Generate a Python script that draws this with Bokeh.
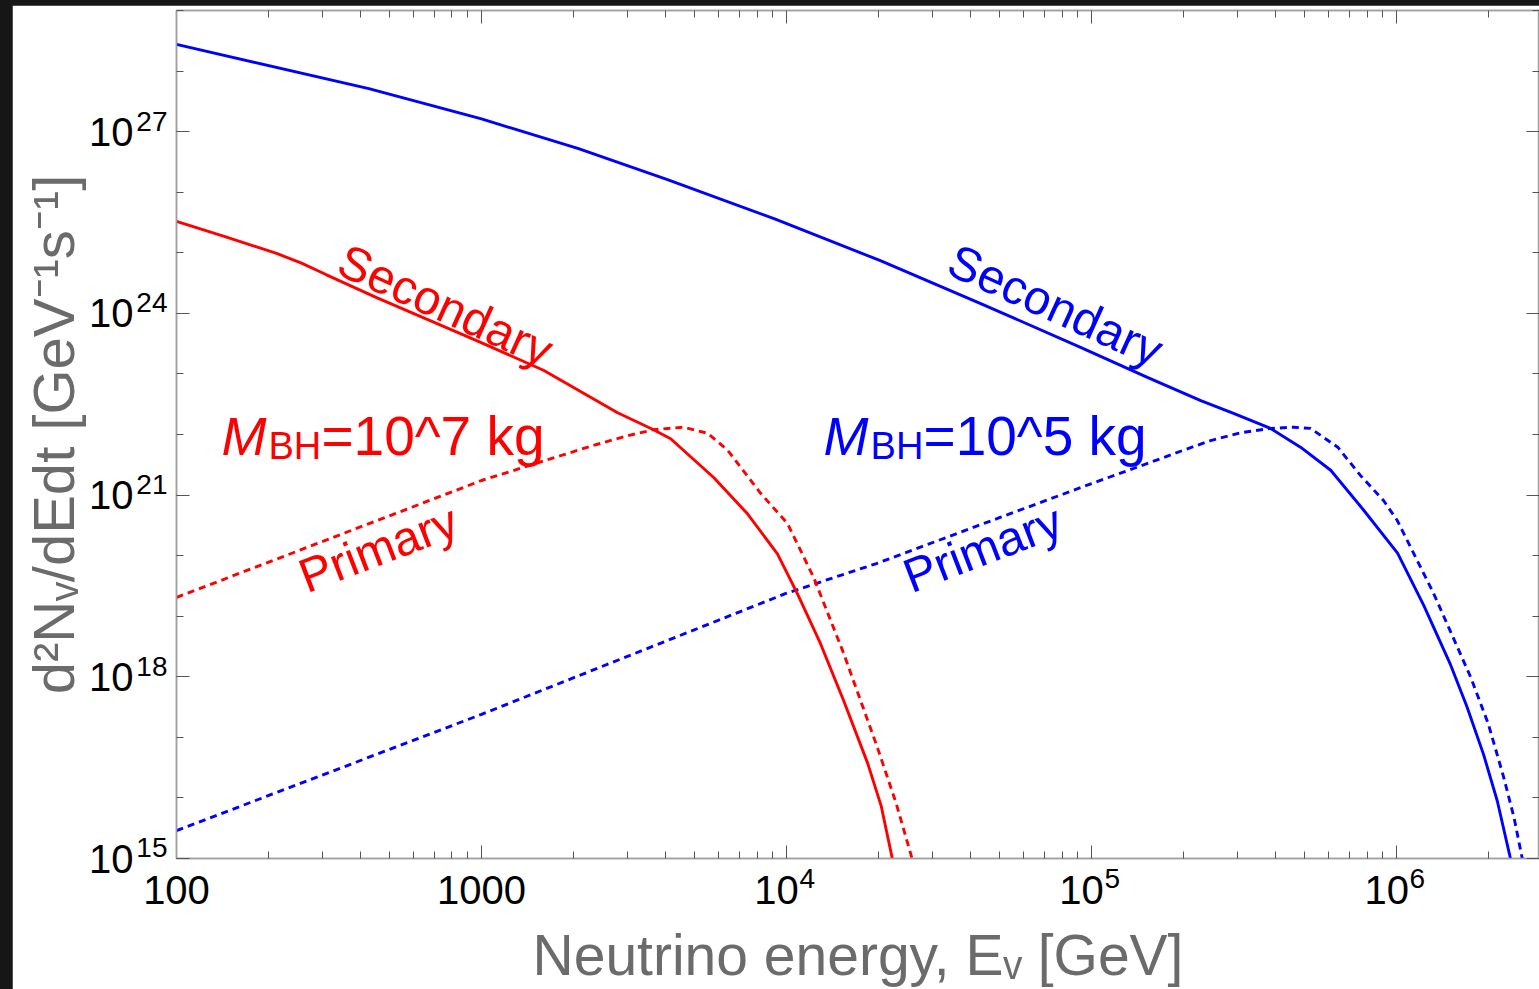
from bokeh.plotting import figure
from bokeh.models import LogAxis, FixedTicker, Label, Range1d, GlobalInlineStyleSheet
from bokeh.embed import file_html
from bokeh.resources import INLINE

# ---------------- data ----------------
# M_BH = 10^5 kg, secondary spectrum (solid blue)
energy_sec_1e5 = [100, 427, 1000, 2080, 4070, 9140, 20300, 43300, 92000, 153000,
                  228000, 292000, 386000, 484000, 608000, 780000, 1.007e6, 1.227e6,
                  1.503e6, 1.698e6, 1.928e6, 2.138e6, 2.366e6, 2.455e6]
flux_sec_1e5 = [2.75e28, 5.13e27, 1.62e27, 5.25e26, 1.62e26, 3.63e25, 7.41e24, 1.45e24,
                2.75e23, 8.71e22, 3.63e22, 2.24e22, 1.26e22, 6.17e21, 2.57e21, 5.62e20,
                1.10e20, 1.51e19, 1.57e18, 3.27e17, 5.19e16, 8.91e15, 9.55e14, 3.80e14]

# M_BH = 10^5 kg, primary spectrum (dotted blue)
energy_pri_1e5 = [100, 1000, 10000, 19720, 50100, 100000, 156000, 200000, 245500, 308000,
                  386400, 459200, 522400, 576800, 641200, 762100, 905700, 1.005e6, 1.321e6,
                  1.750e6, 1.995e6, 2.244e6, 2.427e6, 2.588e6, 2.69e6]
flux_pri_1e5 = [2.88e15, 2.40e17, 2.40e19, 7.41e19, 4.27e20, 1.55e21, 3.47e21, 5.50e21,
                7.94e21, 1.07e22, 1.26e22, 1.32e22, 1.26e22, 8.91e21, 6.17e21, 2.09e21,
                8.13e20, 3.80e20, 2.40e19, 9.77e17, 1.70e17, 2.19e16, 4.68e15, 9.33e14,
                3.63e14]

# M_BH = 10^7 kg, secondary spectrum (solid red)
energy_sec_1e7 = [100, 145.9, 212.8, 257, 309, 452.9, 963.8, 1596, 2793, 3664, 4169, 5768,
                  7447, 9333, 10860, 12910, 15380, 18450, 20420, 22280, 22910]
flux_sec_1e7 = [3.31e25, 1.82e25, 9.77e24, 6.76e24, 4.37e24, 1.82e24, 3.55e23, 1.15e23,
                2.29e22, 1.20e22, 8.51e21, 1.95e21, 4.90e20, 1.07e20, 2.34e19, 3.55e18,
                4.07e17, 3.72e16, 7.41e15, 9.33e14, 5.0e14]

# M_BH = 10^7 kg, primary spectrum (dotted red)
energy_pri_1e7 = [100, 1000, 1816, 2328, 3013, 3664, 4592, 5508, 6412, 8222, 10070,
                  12270, 15380, 19860, 22910, 25880, 26920]
flux_pri_1e7 = [2.04e19, 1.74e21, 4.47e21, 6.61e21, 9.55e21, 1.20e22, 1.32e22, 1.05e22,
                5.50e21, 1.07e21, 3.39e20, 4.37e19, 2.45e18, 6.76e16, 7.94e15, 9.33e14,
                3.63e14]

# tick labels: base text and raised exponent
x_major_ticks = [1e2, 1e3, 1e4, 1e5, 1e6]
x_tick_base = ["100", "1000", "10", "10", "10"]
x_tick_exp = ["", "", "4", "5", "6"]
y_major_ticks = [1e15, 1e18, 1e21, 1e24, 1e27]
y_tick_base = ["10", "10", "10", "10", "10"]
y_tick_exp = ["15", "18", "21", "24", "27"]
x_minor_ticks = [m * 10.0 ** k for k in range(2, 7) for m in range(2, 10)]
y_minor_ticks = [10.0 ** k for k in range(15, 30)]

x_title = "Neutrino energy, E\u1d65 [GeV]"
y_title = "d\u00b2N\u1d65/dEdt [GeV\u207b\u00b9s\u207b\u00b9]"

# ---------------- styling ----------------
FONT = "Liberation Sans"
RED = "#ff0000"
BLUE = "#0000ff"
AXIS_GRAY = "#a0a0a0"
TICK_GRAY = "#555555"
TITLE_GRAY = "#6b6b6b"
EN, EM, NB, THIN = "\u2002", "\u2003", "\u00a0", "\u2009"

page_css = GlobalInlineStyleSheet(css="""
html { background: #161616 !important; overflow: hidden !important; height: auto !important; }
body { margin: 5px 0 0 12px !important; padding: 0 !important; background: #161616 !important;
       overflow: hidden !important; height: auto !important; }
""")

p = figure(width=1527, height=984, x_axis_type="log", y_axis_type="log",
           x_range=Range1d(100, 2.94e6), y_range=Range1d(1e15, 1e29),
           output_backend="svg", toolbar_location=None,
           min_border_left=164, min_border_right=0, min_border_top=5, min_border_bottom=131)
p.stylesheets = [page_css]
p.background_fill_color = "white"
p.border_fill_color = "white"
p.outline_line_color = AXIS_GRAY
p.outline_line_width = 1.5
p.xgrid.visible = False
p.ygrid.visible = False


def style_axis(ax, ticks, minor):
    ax.ticker = FixedTicker(ticks=ticks, minor_ticks=minor)
    ax.axis_line_color = AXIS_GRAY
    ax.axis_line_width = 1.5
    ax.major_tick_line_color = TICK_GRAY
    ax.minor_tick_line_color = TICK_GRAY
    ax.major_tick_line_width = 1
    ax.minor_tick_line_width = 1
    ax.major_tick_in = 13
    ax.major_tick_out = 0
    ax.minor_tick_in = 7
    ax.minor_tick_out = 0
    ax.major_label_text_font = FONT
    ax.major_label_text_color = "black"


def label_axis(ticks, labels, size, standoff, title_size):
    """Axis without line or ticks, used only to carry one row of tick labels."""
    ax = LogAxis(ticker=FixedTicker(ticks=ticks, minor_ticks=[]),
                 major_label_overrides=dict(zip(ticks, labels)),
                 major_label_text_font=FONT, major_label_text_font_size=size,
                 major_label_text_color="black", major_label_standoff=standoff,
                 axis_line_color=None, major_tick_line_color=None,
                 minor_tick_line_color=None, major_tick_in=0, major_tick_out=0,
                 minor_tick_in=0, minor_tick_out=0)
    ax.axis_label_text_font = FONT
    ax.axis_label_text_font_size = title_size
    ax.axis_label_text_font_style = "normal"
    ax.axis_label_text_color = TITLE_GRAY
    return ax


# inner bottom axis: ticks + exponents
xa = p.xaxis[0]
style_axis(xa, x_major_ticks, x_minor_ticks)
xa.major_label_overrides = {t: (EM + NB + THIN + e if e else "")
                            for t, e in zip(x_major_ticks, x_tick_exp)}
xa.major_label_text_font_size = "28px"
xa.major_label_standoff = 4

# outer bottom axis: "100", "1000", "10" + title
xb = label_axis(x_major_ticks,
                [b + EN if e else b for b, e in zip(x_tick_base, x_tick_exp)],
                "40px", -29, "57px")
xb.axis_label = x_title
xb.axis_label_standoff = 8
p.add_layout(xb, "below")

# inner left axis: ticks + raised exponents
ya = p.yaxis[0]
style_axis(ya, y_major_ticks, y_minor_ticks)
ya.major_label_overrides = {t: e + "\n" for t, e in zip(y_major_ticks, y_tick_exp)}
ya.major_label_text_font_size = "28px"
ya.major_label_text_line_height = 0.68
ya.major_label_standoff = 9

# outer left axis: "10" + title
yb = label_axis(y_major_ticks, y_tick_base, "40px", 0, "58px")
yb.axis_label = y_title
yb.axis_label_standoff = 0
p.add_layout(yb, "left")

# mirrored ticks on top and right (no labels)
top_axis = LogAxis()
right_axis = LogAxis()
style_axis(top_axis, x_major_ticks, x_minor_ticks)
style_axis(right_axis, y_major_ticks, y_minor_ticks)
top_axis.major_label_overrides = {t: "" for t in x_major_ticks}
right_axis.major_label_overrides = {t: "" for t in y_major_ticks}
for ax in (top_axis, right_axis):
    ax.major_label_standoff = 0
p.add_layout(top_axis, "above")
p.add_layout(right_axis, "right")

# ---------------- curves ----------------
LW = 2.9
DASH = "7 5"
p.line(energy_sec_1e5, flux_sec_1e5, line_color=BLUE, line_width=LW)
p.line(energy_pri_1e5, flux_pri_1e5, line_color=BLUE, line_width=LW, line_dash=DASH)
p.line(energy_sec_1e7, flux_sec_1e7, line_color=RED, line_width=LW)
p.line(energy_pri_1e7, flux_pri_1e7, line_color=RED, line_width=LW, line_dash=DASH)

# ---------------- annotations ----------------
def txt(x, y, text, size, dx, dy, color, style="normal"):
    p.add_layout(Label(x=x, y=y, text=text, text_font=FONT, text_font_size=size,
                       text_color=color, text_align="left", text_baseline="alphabetic",
                       text_font_style=style, x_offset=dx, y_offset=dy))


def rot_label(x, y, text, color, angle):
    p.add_layout(Label(x=x, y=y, text=text, text_color=color, text_font=FONT,
                       text_font_size="48px", angle=angle, angle_units="deg",
                       text_align="center", text_baseline="middle"))


rot_label(762, 1.35e24, "Secondary", RED, -24.5)
rot_label(76200, 1.35e24, "Secondary", BLUE, -24.5)
rot_label(459, 1.31e20, "Primary", RED, 21)
rot_label(43950, 1.31e20, "Primary", BLUE, 21)


def mass_label(x, y, rest, color):
    txt(x, y, "M", "54px", 0, 0, color, "italic")
    txt(x, y, "BH", "38px", 47, -10, color)
    txt(x, y, rest, "55px", 100, 0, color)


mass_label(140.4, 9.4e21, "=10^7 kg", RED)
mass_label(13220, 9.4e21, "=10^5 kg", BLUE)

open("out.html", "w").write(file_html(p, INLINE, title="Neutrino spectra"))
